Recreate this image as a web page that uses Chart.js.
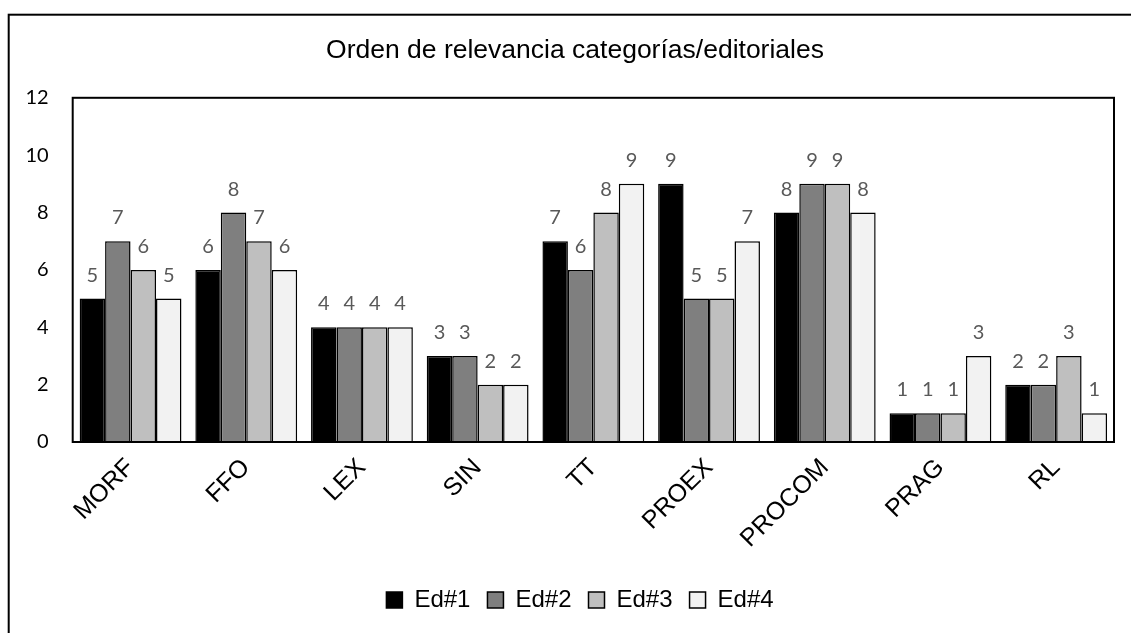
<!DOCTYPE html>
<html>
<head>
<meta charset="utf-8">
<script src="https://cdn.jsdelivr.net/npm/chart.js@4/dist/chart.umd.min.js"></script>
<style>
  body { margin: 0; background: #fff; }
  #wrap { width: 1131px; height: 633px; }
</style>
</head>
<body>
<div id="wrap"><canvas id="relChart" width="1131" height="633"></canvas></div>
<script>
const categories = ["MORF", "FFO", "LEX", "SIN", "TT", "PROEX", "PROCOM", "PRAG", "RL"];
const ed1 = [5, 6, 4, 3, 7, 9, 8, 1, 2];
const ed2 = [7, 8, 4, 3, 6, 5, 9, 1, 2];
const ed3 = [6, 7, 4, 2, 8, 5, 9, 1, 3];
const ed4 = [5, 6, 4, 2, 9, 7, 8, 3, 1];
const seriesNames = ["Ed#1", "Ed#2", "Ed#3", "Ed#4"];
const yTicks = [0, 2, 4, 6, 8, 10, 12];

const fills = ["#000000", "#7f7f7f", "#bfbfbf", "#f2f2f2"];

// white background + outer chart frame (cut off at right/bottom)
const framePlugin = {
  id: "frame",
  beforeDraw(chart) {
    const ctx = chart.ctx;
    ctx.save();
    ctx.fillStyle = "#fff";
    ctx.fillRect(0, 0, chart.width, chart.height);
    ctx.strokeStyle = "#000";
    ctx.lineWidth = 2;
    ctx.strokeRect(8.7, 14.7, chart.width + 50, chart.height + 50);
    ctx.restore();
  }
};

// title and legend sit a bit right of the canvas centre in the original
const shiftPlugin = {
  id: "shiftBoxes",
  afterLayout(chart) {
    const move = (b, dx) => {
      if (!b) return;
      b.left += dx;
      b.right += dx;
    };
    move(chart.titleBlock, 18);
    move(chart.legend, 23);
  }
};

// box around plot area + value labels on top of bars
const plotPlugin = {
  id: "plotBox",
  afterDatasetsDraw(chart) {
    const ctx = chart.ctx;
    const a = chart.chartArea;
    ctx.save();
    ctx.strokeStyle = "#000";
    ctx.lineWidth = 2;
    ctx.strokeRect(a.left, a.top, a.right - a.left, a.bottom - a.top);

    ctx.fillStyle = "#595959";
    ctx.font = "20px Lato";
    ctx.textAlign = "center";
    ctx.textBaseline = "alphabetic";
    chart.data.datasets.forEach((ds, i) => {
      chart.getDatasetMeta(i).data.forEach((bar, j) => {
        ctx.fillText(String(ds.data[j]), bar.x, bar.y - 17);
      });
    });
    ctx.restore();
  }
};

const seriesData = [ed1, ed2, ed3, ed4];

new Chart(document.getElementById("relChart"), {
  type: "bar",
  data: {
    labels: categories,
    datasets: seriesNames.map((name, i) => ({
      label: name,
      data: seriesData[i],
      backgroundColor: fills[i],
      borderColor: "#000",
      borderWidth: 1.5,
      barPercentage: 1.0,
      categoryPercentage: 0.88
    }))
  },
  options: {
    responsive: false,
    animation: false,
    layout: { padding: { left: 0, right: 17, top: 0, bottom: 11 } },
    plugins: {
      title: {
        display: true,
        text: "Orden de relevancia categorías/editoriales",
        color: "#000",
        font: { family: "Liberation Sans, Arial", size: 26.5, weight: "normal" },
        padding: { top: 35, bottom: 31 }
      },
      legend: {
        position: "bottom",
        labels: {
          color: "#000",
          font: { family: "Liberation Sans, Arial", size: 24 },
          boxWidth: 16,
          boxHeight: 16,
          padding: 17
        }
      },
      tooltip: { enabled: false }
    },
    scales: {
      x: {
        grid: { display: false },
        border: { display: false },
        ticks: {
          color: "#000",
          font: { family: "Liberation Sans, Arial", size: 25 },
          minRotation: 45,
          maxRotation: 45,
          padding: 3
        },
        afterFit(scale) { scale.height = 129; }
      },
      y: {
        min: 0,
        max: 12,
        grid: { display: false },
        border: { display: false },
        afterBuildTicks(scale) { scale.ticks = yTicks.map(v => ({ value: v })); },
        ticks: {
          color: "#000",
          font: { family: "Lato", size: 20 },
          padding: 16
        },
        afterFit(scale) { scale.width = 72.7; }
      }
    }
  },
  plugins: [framePlugin, shiftPlugin, plotPlugin]
});
</script>
</body>
</html>
